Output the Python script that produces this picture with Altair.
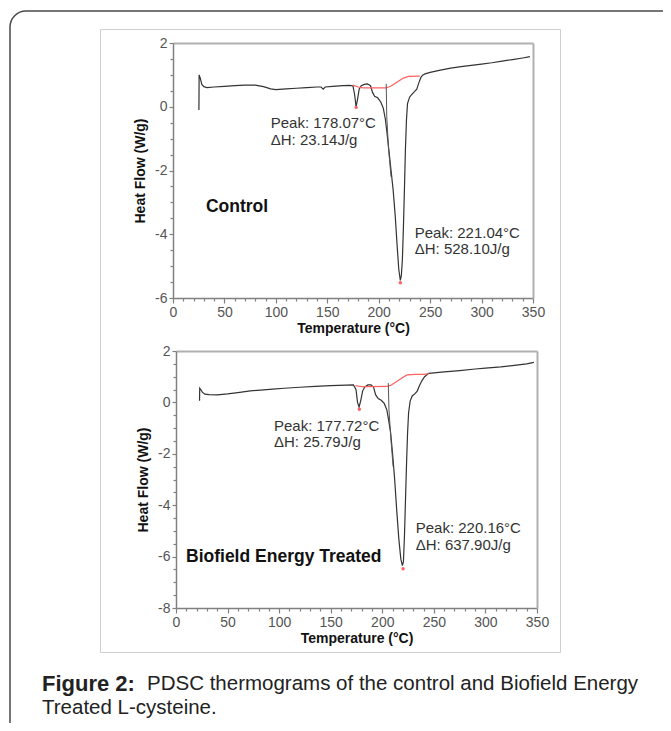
import altair as alt
import pandas as pd

# ---------------- data ----------------
ctrl_T = [25.2, 25.4, 26.5, 28, 30, 33, 40, 50, 60, 70, 80, 88, 95, 100, 110, 120, 130, 140, 144, 146,
          148, 155, 165, 172, 175, 176.5, 178, 179.5, 181, 183, 186, 189, 192, 194, 196, 199, 202, 204.5,
          206.5, 208, 210, 212, 214, 216, 218, 219.5, 221, 222, 223, 224, 225, 226, 227, 228, 230, 232,
          235, 237, 239, 241, 243, 245, 250, 260, 270, 280, 290, 300, 310, 320, 330, 340, 347]
ctrl_HF = [-0.1, 1.0, 0.9, 0.7, 0.63, 0.6, 0.62, 0.64, 0.66, 0.68, 0.68, 0.63, 0.56, 0.54, 0.56, 0.58,
           0.6, 0.62, 0.62, 0.55, 0.62, 0.64, 0.66, 0.67, 0.65, 0.4, 0.0, 0.25, 0.55, 0.66, 0.7, 0.72,
           0.66, 0.45, 0.33, 0.28, 0.15, -0.05, -0.4, -0.8, -1.4, -2.0, -2.6, -3.4, -4.4, -5.1, -5.45,
           -5.3, -4.8, -3.8, -2.6, -1.3, -0.4, 0.1, 0.3, 0.38, 0.48, 0.55, 0.75, 0.92, 1.0, 1.03, 1.08,
           1.15, 1.21, 1.26, 1.3, 1.34, 1.38, 1.43, 1.48, 1.53, 1.57]
ctrl_base_T = [175, 180, 185, 207, 212, 218, 224, 229, 240]
ctrl_base_HF = [0.68, 0.62, 0.59, 0.59, 0.65, 0.78, 0.9, 0.95, 0.96]
ctrl_split_T = [207.3, 207.8, 209.5, 212]
ctrl_split_HF = [0.72, -0.3, -1.3, -2.2]
ctrl_peak_T = [178.07, 221.04]
ctrl_peak_HF = [-0.02, -5.52]
ctrl_note_text = ["Peak: 178.07°C", "ΔH: 23.14J/g", "Peak: 221.04°C", "ΔH: 528.10J/g"]
ctrl_note_T = [95, 95, 235, 235]
ctrl_note_HF = [-0.5, -1.04, -3.97, -4.46]

trt_T = [22.8, 23.0, 24, 25.5, 28, 32, 40, 50, 60, 72, 85, 94, 105, 120, 135, 150, 165, 172, 174.5,
         176, 177.5, 179, 181, 183, 186, 189, 191.5, 193.5, 196, 199, 202, 204.5, 206, 208, 210, 212,
         214, 216, 218, 219.5, 220.5, 221.5, 222.5, 223.5, 224.5, 225.5, 227, 229, 232, 234, 236,
         238.5, 241, 245, 250, 260, 275, 290, 300, 315, 330, 340, 347]
trt_HF = [0.06, 0.55, 0.5, 0.4, 0.32, 0.3, 0.29, 0.33, 0.38, 0.45, 0.49, 0.52, 0.55, 0.59, 0.62, 0.65,
          0.67, 0.68, 0.5, 0.0, -0.18, 0.05, 0.45, 0.6, 0.68, 0.68, 0.6, 0.3, 0.15, 0.08, -0.05, -0.3,
          -0.65, -1.15, -2.0, -3.0, -4.2, -5.3, -6.1, -6.35, -6.2, -5.2, -3.8, -2.4, -1.2, -0.4, 0.05,
          0.25, 0.35, 0.45, 0.65, 0.85, 1.0, 1.13, 1.15, 1.19, 1.24, 1.3, 1.33, 1.38, 1.45, 1.5, 1.56]
trt_base_T = [174, 180, 185, 204.5, 208, 214, 219, 224, 232, 240, 245]
trt_base_HF = [0.65, 0.61, 0.61, 0.62, 0.66, 0.81, 0.95, 1.07, 1.09, 1.09, 1.12]
trt_split_T = [205.8, 206.5, 208.5, 210.5]
trt_split_HF = [0.75, -0.3, -1.5, -2.5]
trt_peak_T = [177.72, 220.16]
trt_peak_HF = [-0.27, -6.47]
trt_note_text = ["Peak: 177.72°C", "ΔH: 25.79J/g", "Peak: 220.16°C", "ΔH: 637.90J/g"]
trt_note_T = [95, 95, 232.4, 232.4]
trt_note_HF = [-0.91, -1.55, -4.9, -5.55]

x_ticks = [0, 50, 100, 150, 200, 250, 300, 350]
x_minor = [v for v in range(10, 350, 10) if v % 50]
ctrl_y_ticks = [-6, -4, -2, 0, 2]
trt_y_ticks = [-8, -6, -4, -2, 0, 2]

caption_bold = "Figure 2:"
caption_line1 = "PDSC thermograms of the control and Biofield Energy"
caption_line2 = "Treated L-cysteine."

W, H = 655, 715
FONT = "Liberation Sans"
LINE = "#333333"
RED = "#ff6060"


def minor_vals(lo, hi):
    out = []
    v = lo
    while v <= hi + 1e-9:
        if abs(v - round(v)) > 1e-9 or int(round(v)) % 2:
            out.append(v)
        v += 0.5
    return out


def panel(T, HF, bT, bHF, sT, sHF, pT, pHF, nT, nHF, ntext, label, label_T, label_HF,
          xr, yr, ydom, yticks):
    df = pd.DataFrame({"T": T, "HF": HF, "i": list(range(len(T)))})
    base = pd.DataFrame({"T": bT, "HF": bHF})
    split = pd.DataFrame({"T": sT, "HF": sHF})
    peaks = pd.DataFrame({"T": pT, "HF": pHF})
    notes = pd.DataFrame({"T": nT, "HF": nHF, "txt": ntext})
    lab = pd.DataFrame({"T": [label_T], "HF": [label_HF], "txt": [label]})

    xs = alt.Scale(domain=[0, 350], range=xr, nice=False, zero=False)
    ys = alt.Scale(domain=ydom, range=yr, nice=False, zero=False)
    bottom_off = yr[0] - H
    left_off = -xr[0]
    top_off = -yr[1]
    right_off = xr[1] - W

    main = alt.Chart(df).mark_line(color=LINE, strokeWidth=1.2).encode(
        x=alt.X("T:Q", scale=xs, axis=alt.Axis(
            orient="bottom", offset=bottom_off, values=x_ticks, title="Temperature (°C)",
            tickSize=5, labelPadding=2, titlePadding=2, labelFlush=False, labelOverlap=False)),
        y=alt.Y("HF:Q", scale=ys, axis=alt.Axis(
            orient="left", offset=left_off, values=yticks, title="Heat Flow (W/g)",
            tickSize=4, labelPadding=2, titlePadding=7, labelOverlap=False,
            labelExpr="datum.value + ''")),
        order="i:Q",
    )
    minor = alt.Chart(df).mark_point(opacity=0).encode(
        x=alt.X("T:Q", scale=xs, axis=alt.Axis(
            orient="bottom", offset=bottom_off, values=x_minor, labels=False, domain=False,
            tickSize=3, title=None)),
        y=alt.Y("HF:Q", scale=ys, axis=alt.Axis(
            orient="left", offset=left_off, values=minor_vals(ydom[0], ydom[1]), labels=False,
            domain=False, tickSize=3, title=None)),
    )
    frame = alt.Chart(df).mark_point(opacity=0).encode(
        x=alt.X("T:Q", scale=xs, axis=alt.Axis(
            orient="top", offset=top_off, ticks=False, labels=False, title=None,
            domainColor="#b0b0b0", domainWidth=2)),
        y=alt.Y("HF:Q", scale=ys, axis=alt.Axis(
            orient="right", offset=right_off, ticks=False, labels=False, title=None,
            domainColor="#b0b0b0", domainWidth=2)),
    )
    bl = alt.Chart(base).mark_line(color=RED, strokeWidth=1.2).encode(
        x=alt.X("T:Q", scale=xs, axis=None), y=alt.Y("HF:Q", scale=ys, axis=None))
    sp = alt.Chart(split).mark_line(color="#555555", strokeWidth=1).encode(
        x=alt.X("T:Q", scale=xs, axis=None), y=alt.Y("HF:Q", scale=ys, axis=None))
    pk = alt.Chart(peaks).mark_point(color=RED, filled=True, size=12, opacity=1).encode(
        x=alt.X("T:Q", scale=xs, axis=None), y=alt.Y("HF:Q", scale=ys, axis=None))
    nt = alt.Chart(notes).mark_text(align="left", baseline="middle", font=FONT, fontSize=15,
                                    color="#333333").encode(
        x=alt.X("T:Q", scale=xs, axis=None), y=alt.Y("HF:Q", scale=ys, axis=None), text="txt:N")
    lb = alt.Chart(lab).mark_text(align="left", baseline="middle", font=FONT, fontSize=17.5,
                                  fontWeight="bold", color="#111111").encode(
        x=alt.X("T:Q", scale=xs, axis=None), y=alt.Y("HF:Q", scale=ys, axis=None), text="txt:N")
    return alt.layer(main, minor, frame, bl, sp, pk, nt, lb).resolve_axis(x="independent", y="independent")


p1 = panel(ctrl_T, ctrl_HF, ctrl_base_T, ctrl_base_HF, ctrl_split_T, ctrl_split_HF,
           ctrl_peak_T, ctrl_peak_HF, ctrl_note_T, ctrl_note_HF, ctrl_note_text,
           "Control", 32, -3.14, [165, 525], [290, 35], [-6, 2], ctrl_y_ticks)
p2 = panel(trt_T, trt_HF, trt_base_T, trt_base_HF, trt_split_T, trt_split_HF,
           trt_peak_T, trt_peak_HF, trt_note_T, trt_note_HF, trt_note_text,
           "Biofield Energy Treated", 9.7, -6.0, [168, 529], [600, 343], [-8, 2], trt_y_ticks)

one = alt.Data(values=[{}])
outer = alt.Chart(one).mark_rect(fillOpacity=0, stroke="#4a4a4a", strokeWidth=1.5,
                                 cornerRadius=16).encode(
    x=alt.value(2), x2=alt.value(700), y=alt.value(3), y2=alt.value(730))
inner = alt.Chart(one).mark_rect(fillOpacity=0, stroke="#cfcfcf", strokeWidth=1).encode(
    x=alt.value(92.5), x2=alt.value(552.5), y=alt.value(21.5), y2=alt.value(644.5))
cap_b = alt.Chart(one).mark_text(align="left", baseline="middle", font=FONT, fontSize=22,
                                 fontWeight="bold", color="#222222").encode(
    x=alt.value(34), y=alt.value(676), text=alt.value(caption_bold))
cap_1 = alt.Chart(one).mark_text(align="left", baseline="middle", font=FONT, fontSize=20.5,
                                 color="#222222").encode(
    x=alt.value(139), y=alt.value(676), text=alt.value(caption_line1))
cap_2 = alt.Chart(one).mark_text(align="left", baseline="middle", font=FONT, fontSize=20.5,
                                 color="#222222").encode(
    x=alt.value(34), y=alt.value(700), text=alt.value(caption_line2))

chart = alt.layer(inner, outer, p1, p2, cap_b, cap_1, cap_2).resolve_scale(
    x="independent", y="independent"
).properties(
    width=W, height=H, padding=0, autosize=alt.AutoSizeParams(type="none")
).configure_view(stroke=None).configure_axis(
    grid=False, labelFont=FONT, labelFontSize=14, labelColor="#555555",
    titleFont=FONT, titleFontSize=14, titleFontWeight="bold", titleColor="#111111",
    domainColor="#808080", tickColor="#808080", domainWidth=1.5, tickWidth=1.2,
)

chart.save("out.html", embed_options={"renderer": "svg", "actions": False})
